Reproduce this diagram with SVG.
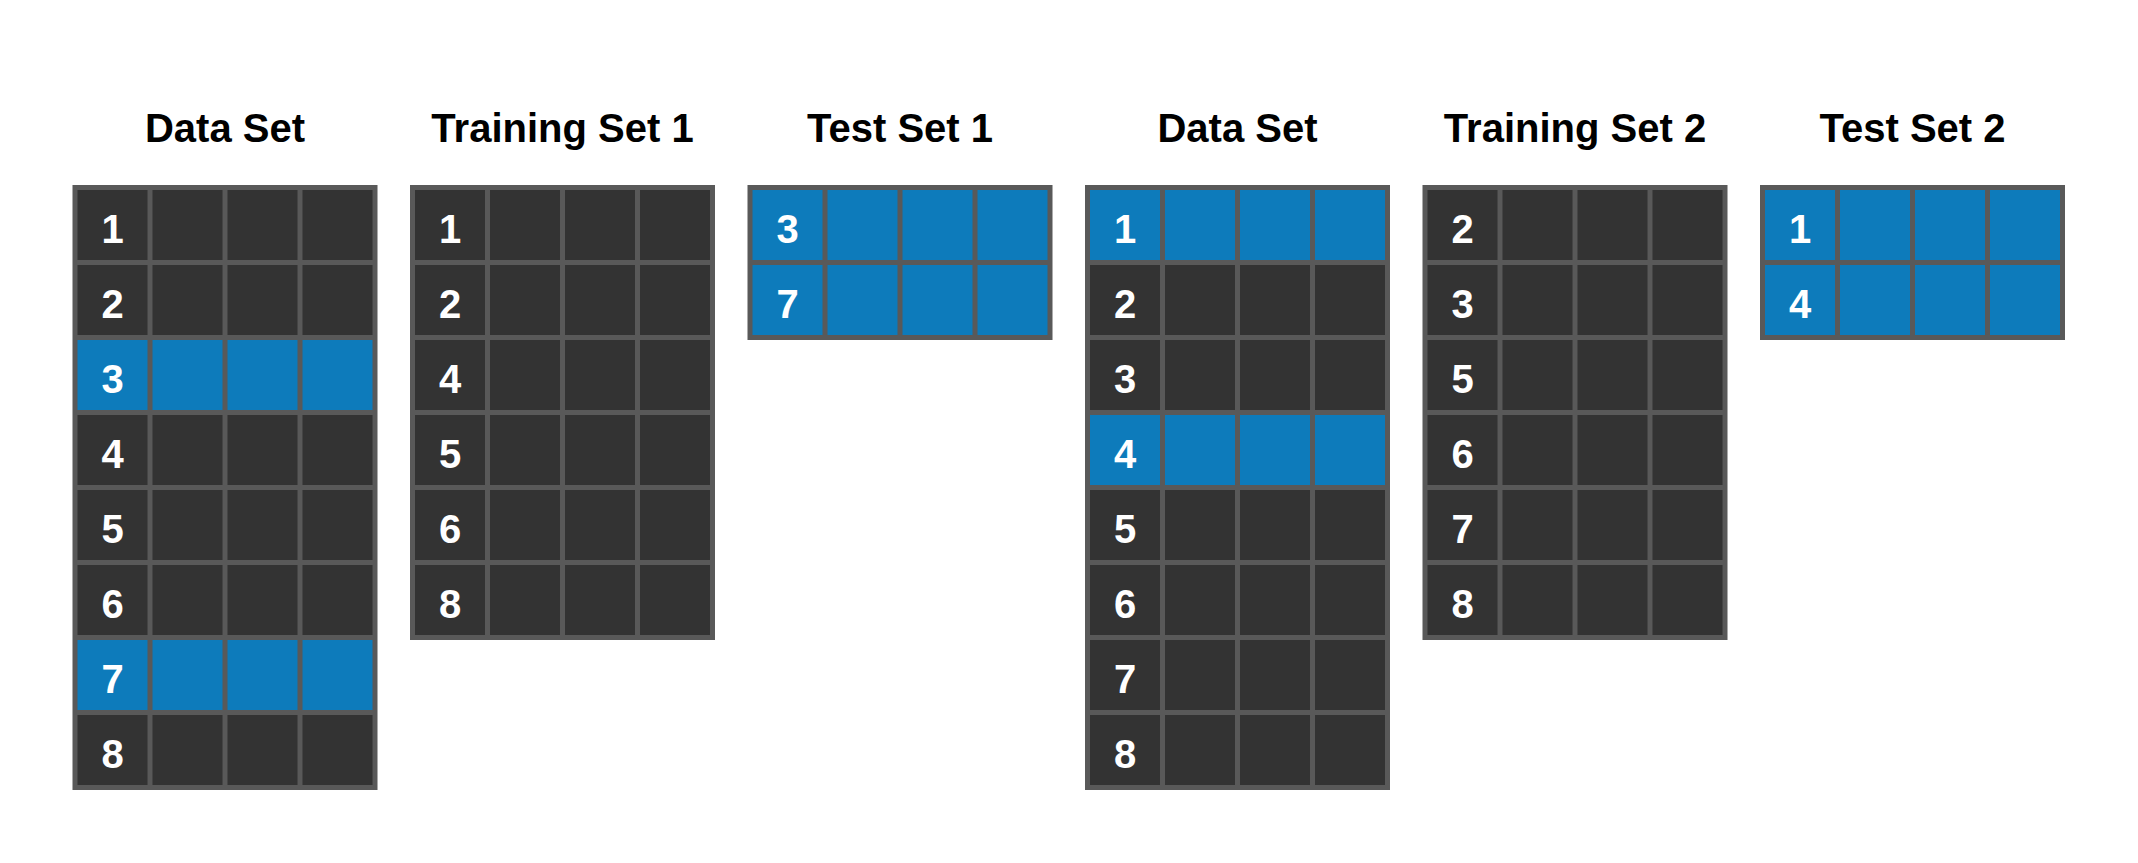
<svg xmlns="http://www.w3.org/2000/svg" width="2138" height="863" viewBox="0 0 2138 863">
<style>
.bg{fill:#ffffff}
.frame{fill:#595959}
.d{fill:#333333}
.b{fill:#0d7bbb}
.title{font-family:"Liberation Sans",Arial,sans-serif;font-weight:bold;font-size:40px;fill:#000000;text-anchor:middle}
.num{font-family:"Liberation Sans",Arial,sans-serif;font-weight:bold;font-size:40px;fill:#ffffff;text-anchor:middle}
</style>
<rect class="bg" x="0" y="0" width="2138" height="863"/>

<g id="dataset1">
<text class="title" x="225" y="142">Data Set</text>
<rect class="frame" x="72.5" y="185" width="305" height="605"/>
<g transform="translate(72.5,0)">
<rect class="d" x="5" y="190" width="70" height="70"/><rect class="d" x="80" y="190" width="70" height="70"/><rect class="d" x="155" y="190" width="70" height="70"/><rect class="d" x="230" y="190" width="70" height="70"/>
<rect class="d" x="5" y="265" width="70" height="70"/><rect class="d" x="80" y="265" width="70" height="70"/><rect class="d" x="155" y="265" width="70" height="70"/><rect class="d" x="230" y="265" width="70" height="70"/>
<rect class="b" x="5" y="340" width="70" height="70"/><rect class="b" x="80" y="340" width="70" height="70"/><rect class="b" x="155" y="340" width="70" height="70"/><rect class="b" x="230" y="340" width="70" height="70"/>
<rect class="d" x="5" y="415" width="70" height="70"/><rect class="d" x="80" y="415" width="70" height="70"/><rect class="d" x="155" y="415" width="70" height="70"/><rect class="d" x="230" y="415" width="70" height="70"/>
<rect class="d" x="5" y="490" width="70" height="70"/><rect class="d" x="80" y="490" width="70" height="70"/><rect class="d" x="155" y="490" width="70" height="70"/><rect class="d" x="230" y="490" width="70" height="70"/>
<rect class="d" x="5" y="565" width="70" height="70"/><rect class="d" x="80" y="565" width="70" height="70"/><rect class="d" x="155" y="565" width="70" height="70"/><rect class="d" x="230" y="565" width="70" height="70"/>
<rect class="b" x="5" y="640" width="70" height="70"/><rect class="b" x="80" y="640" width="70" height="70"/><rect class="b" x="155" y="640" width="70" height="70"/><rect class="b" x="230" y="640" width="70" height="70"/>
<rect class="d" x="5" y="715" width="70" height="70"/><rect class="d" x="80" y="715" width="70" height="70"/><rect class="d" x="155" y="715" width="70" height="70"/><rect class="d" x="230" y="715" width="70" height="70"/>
<text class="num" x="40" y="243">1</text><text class="num" x="40" y="318">2</text><text class="num" x="40" y="393">3</text><text class="num" x="40" y="468">4</text>
<text class="num" x="40" y="543">5</text><text class="num" x="40" y="618">6</text><text class="num" x="40" y="693">7</text><text class="num" x="40" y="768">8</text>
</g>
</g>

<g id="training1">
<text class="title" x="562.5" y="142">Training Set 1</text>
<rect class="frame" x="410" y="185" width="305" height="455"/>
<g transform="translate(410,0)">
<rect class="d" x="5" y="190" width="70" height="70"/><rect class="d" x="80" y="190" width="70" height="70"/><rect class="d" x="155" y="190" width="70" height="70"/><rect class="d" x="230" y="190" width="70" height="70"/>
<rect class="d" x="5" y="265" width="70" height="70"/><rect class="d" x="80" y="265" width="70" height="70"/><rect class="d" x="155" y="265" width="70" height="70"/><rect class="d" x="230" y="265" width="70" height="70"/>
<rect class="d" x="5" y="340" width="70" height="70"/><rect class="d" x="80" y="340" width="70" height="70"/><rect class="d" x="155" y="340" width="70" height="70"/><rect class="d" x="230" y="340" width="70" height="70"/>
<rect class="d" x="5" y="415" width="70" height="70"/><rect class="d" x="80" y="415" width="70" height="70"/><rect class="d" x="155" y="415" width="70" height="70"/><rect class="d" x="230" y="415" width="70" height="70"/>
<rect class="d" x="5" y="490" width="70" height="70"/><rect class="d" x="80" y="490" width="70" height="70"/><rect class="d" x="155" y="490" width="70" height="70"/><rect class="d" x="230" y="490" width="70" height="70"/>
<rect class="d" x="5" y="565" width="70" height="70"/><rect class="d" x="80" y="565" width="70" height="70"/><rect class="d" x="155" y="565" width="70" height="70"/><rect class="d" x="230" y="565" width="70" height="70"/>
<text class="num" x="40" y="243">1</text><text class="num" x="40" y="318">2</text><text class="num" x="40" y="393">4</text>
<text class="num" x="40" y="468">5</text><text class="num" x="40" y="543">6</text><text class="num" x="40" y="618">8</text>
</g>
</g>

<g id="test1">
<text class="title" x="900" y="142">Test Set 1</text>
<rect class="frame" x="747.5" y="185" width="305" height="155"/>
<g transform="translate(747.5,0)">
<rect class="b" x="5" y="190" width="70" height="70"/><rect class="b" x="80" y="190" width="70" height="70"/><rect class="b" x="155" y="190" width="70" height="70"/><rect class="b" x="230" y="190" width="70" height="70"/>
<rect class="b" x="5" y="265" width="70" height="70"/><rect class="b" x="80" y="265" width="70" height="70"/><rect class="b" x="155" y="265" width="70" height="70"/><rect class="b" x="230" y="265" width="70" height="70"/>
<text class="num" x="40" y="243">3</text><text class="num" x="40" y="318">7</text>
</g>
</g>

<g id="dataset2">
<text class="title" x="1237.5" y="142">Data Set</text>
<rect class="frame" x="1085" y="185" width="305" height="605"/>
<g transform="translate(1085,0)">
<rect class="b" x="5" y="190" width="70" height="70"/><rect class="b" x="80" y="190" width="70" height="70"/><rect class="b" x="155" y="190" width="70" height="70"/><rect class="b" x="230" y="190" width="70" height="70"/>
<rect class="d" x="5" y="265" width="70" height="70"/><rect class="d" x="80" y="265" width="70" height="70"/><rect class="d" x="155" y="265" width="70" height="70"/><rect class="d" x="230" y="265" width="70" height="70"/>
<rect class="d" x="5" y="340" width="70" height="70"/><rect class="d" x="80" y="340" width="70" height="70"/><rect class="d" x="155" y="340" width="70" height="70"/><rect class="d" x="230" y="340" width="70" height="70"/>
<rect class="b" x="5" y="415" width="70" height="70"/><rect class="b" x="80" y="415" width="70" height="70"/><rect class="b" x="155" y="415" width="70" height="70"/><rect class="b" x="230" y="415" width="70" height="70"/>
<rect class="d" x="5" y="490" width="70" height="70"/><rect class="d" x="80" y="490" width="70" height="70"/><rect class="d" x="155" y="490" width="70" height="70"/><rect class="d" x="230" y="490" width="70" height="70"/>
<rect class="d" x="5" y="565" width="70" height="70"/><rect class="d" x="80" y="565" width="70" height="70"/><rect class="d" x="155" y="565" width="70" height="70"/><rect class="d" x="230" y="565" width="70" height="70"/>
<rect class="d" x="5" y="640" width="70" height="70"/><rect class="d" x="80" y="640" width="70" height="70"/><rect class="d" x="155" y="640" width="70" height="70"/><rect class="d" x="230" y="640" width="70" height="70"/>
<rect class="d" x="5" y="715" width="70" height="70"/><rect class="d" x="80" y="715" width="70" height="70"/><rect class="d" x="155" y="715" width="70" height="70"/><rect class="d" x="230" y="715" width="70" height="70"/>
<text class="num" x="40" y="243">1</text><text class="num" x="40" y="318">2</text><text class="num" x="40" y="393">3</text><text class="num" x="40" y="468">4</text>
<text class="num" x="40" y="543">5</text><text class="num" x="40" y="618">6</text><text class="num" x="40" y="693">7</text><text class="num" x="40" y="768">8</text>
</g>
</g>

<g id="training2">
<text class="title" x="1575" y="142">Training Set 2</text>
<rect class="frame" x="1422.5" y="185" width="305" height="455"/>
<g transform="translate(1422.5,0)">
<rect class="d" x="5" y="190" width="70" height="70"/><rect class="d" x="80" y="190" width="70" height="70"/><rect class="d" x="155" y="190" width="70" height="70"/><rect class="d" x="230" y="190" width="70" height="70"/>
<rect class="d" x="5" y="265" width="70" height="70"/><rect class="d" x="80" y="265" width="70" height="70"/><rect class="d" x="155" y="265" width="70" height="70"/><rect class="d" x="230" y="265" width="70" height="70"/>
<rect class="d" x="5" y="340" width="70" height="70"/><rect class="d" x="80" y="340" width="70" height="70"/><rect class="d" x="155" y="340" width="70" height="70"/><rect class="d" x="230" y="340" width="70" height="70"/>
<rect class="d" x="5" y="415" width="70" height="70"/><rect class="d" x="80" y="415" width="70" height="70"/><rect class="d" x="155" y="415" width="70" height="70"/><rect class="d" x="230" y="415" width="70" height="70"/>
<rect class="d" x="5" y="490" width="70" height="70"/><rect class="d" x="80" y="490" width="70" height="70"/><rect class="d" x="155" y="490" width="70" height="70"/><rect class="d" x="230" y="490" width="70" height="70"/>
<rect class="d" x="5" y="565" width="70" height="70"/><rect class="d" x="80" y="565" width="70" height="70"/><rect class="d" x="155" y="565" width="70" height="70"/><rect class="d" x="230" y="565" width="70" height="70"/>
<text class="num" x="40" y="243">2</text><text class="num" x="40" y="318">3</text><text class="num" x="40" y="393">5</text>
<text class="num" x="40" y="468">6</text><text class="num" x="40" y="543">7</text><text class="num" x="40" y="618">8</text>
</g>
</g>

<g id="test2">
<text class="title" x="1912.5" y="142">Test Set 2</text>
<rect class="frame" x="1760" y="185" width="305" height="155"/>
<g transform="translate(1760,0)">
<rect class="b" x="5" y="190" width="70" height="70"/><rect class="b" x="80" y="190" width="70" height="70"/><rect class="b" x="155" y="190" width="70" height="70"/><rect class="b" x="230" y="190" width="70" height="70"/>
<rect class="b" x="5" y="265" width="70" height="70"/><rect class="b" x="80" y="265" width="70" height="70"/><rect class="b" x="155" y="265" width="70" height="70"/><rect class="b" x="230" y="265" width="70" height="70"/>
<text class="num" x="40" y="243">1</text><text class="num" x="40" y="318">4</text>
</g>
</g>

<g id="connectors"/>
</svg>
